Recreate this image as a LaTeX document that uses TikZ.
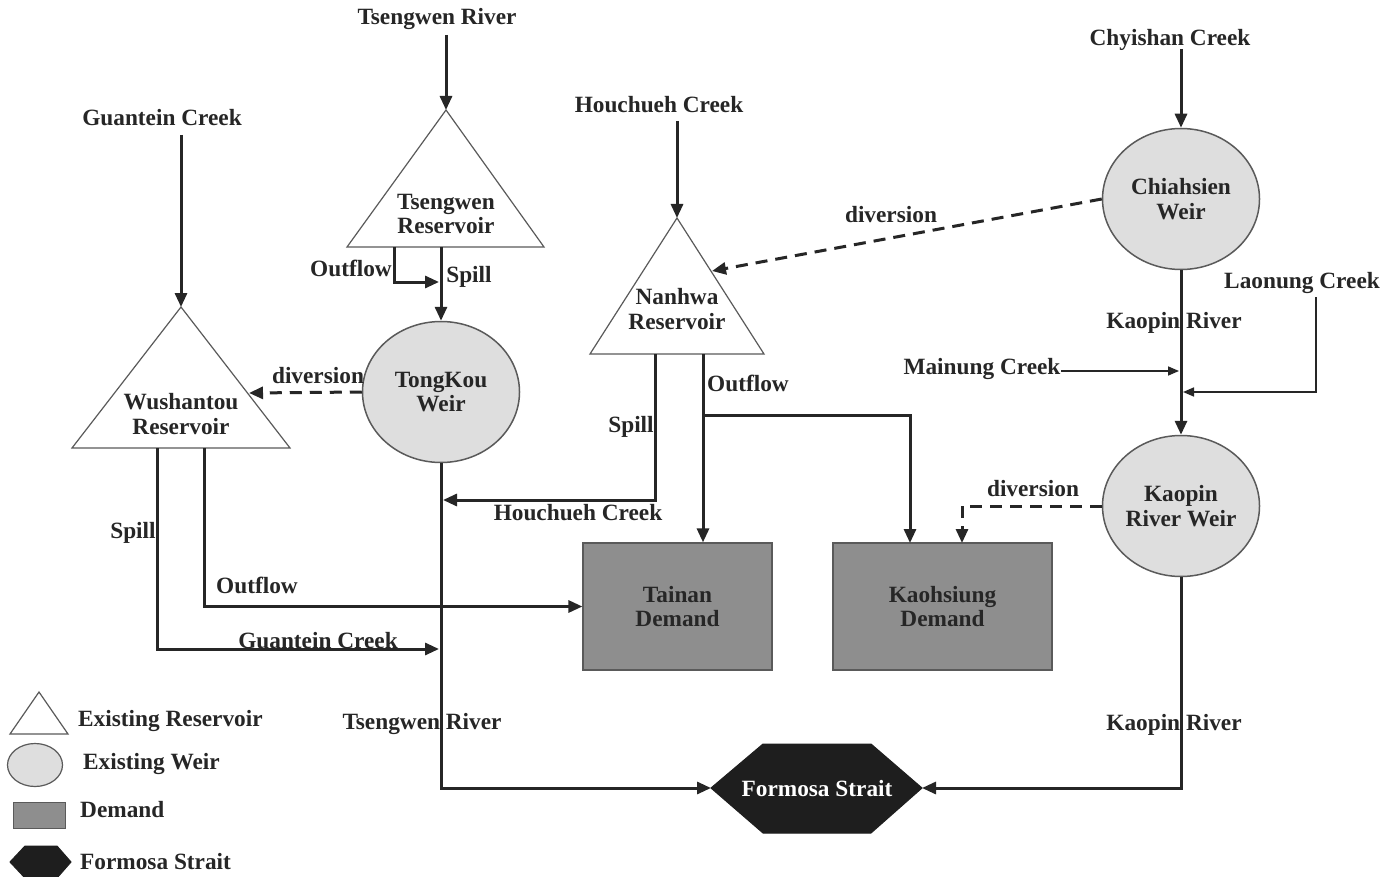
\documentclass[tikz,border=0pt]{standalone}
\usepackage{fontspec}
\setmainfont{Liberation Serif}
\usetikzlibrary{arrows.meta,shapes.geometric}
\definecolor{ink}{HTML}{262626}
\definecolor{weirfill}{HTML}{DEDEDE}
\definecolor{demfill}{HTML}{8E8E8E}
\definecolor{outl}{HTML}{5A5A5A}
\definecolor{seafill}{HTML}{1E1E1E}
\begin{document}
\begin{tikzpicture}[x=1pt,y=-1pt,
  lbl/.style={font=\fontsize{23.3}{24.5}\selectfont\bfseries, inner sep=0pt, text=ink},
  flow/.style={line width=3pt, draw=ink, -{Triangle[length=14pt,width=12pt]}},
  thinflow/.style={line width=1.6pt, draw=ink, -{Triangle[length=11pt,width=9pt]}},
  divline/.style={line width=3pt, draw=ink, dash pattern=on 12pt off 8pt, -{Triangle[length=14pt,width=12pt]}},
  resv/.style={draw=outl, line width=1.2pt, fill=white},
  weir/.style={ellipse, draw=outl, line width=1.5pt, fill=weirfill, inner sep=0pt,
    minimum width=157pt, minimum height=141pt, align=center,
    font=\fontsize{23.3}{24.5}\selectfont\bfseries, text=ink},
  demand/.style={rectangle, draw=outl, line width=1.2pt, fill=demfill, inner sep=0pt,
    minimum width=189pt, minimum height=127pt, align=center,
    font=\fontsize{23.3}{24.5}\selectfont\bfseries, text=black!85},
  sea/.style={fill=seafill, draw=seafill, line width=1pt}
]
\useasboundingbox (0,0) rectangle (1396,877);
\fill[white] (0,0) rectangle (1396,877);

% ---------- source labels ----------
\node[lbl] (twsrc) at (437,19) {Tsengwen River};
\node[lbl] (gcsrc) at (162,118) {Guantein Creek};
\node[lbl] (hcsrc) at (659,105) {Houchueh Creek};
\node[lbl] (cssrc) at (1170,40) {Chyishan Creek};
\node[lbl] (lnsrc) at (1302,283) {Laonung Creek};
\node[lbl] (mnsrc) at (982,369) {Mainung Creek};

% ---------- reservoirs (triangles) ----------
\coordinate (tsA) at (446,110); \coordinate (tsL) at (347,247); \coordinate (tsR) at (544,247);
\draw[resv] (tsA) -- (tsL) -- (tsR) -- cycle;
\node[lbl, align=center] (ts) at (446,214) {Tsengwen\\Reservoir};

\coordinate (wsA) at (181,307); \coordinate (wsL) at (72,448); \coordinate (wsR) at (290,448);
\draw[resv] (wsA) -- (wsL) -- (wsR) -- cycle;
\node[lbl, align=center] (ws) at (181,414) {Wushantou\\Reservoir};

\coordinate (nhA) at (677,218); \coordinate (nhL) at (590,354); \coordinate (nhR) at (764,354);
\draw[resv] (nhA) -- (nhL) -- (nhR) -- cycle;
\node[lbl, align=center] (nh) at (677,309) {Nanhwa\\Reservoir};

% ---------- weirs ----------
\node[weir] (tk) at (441,392) {TongKou\\Weir};
\node[weir] (cs) at (1181,199) {Chiahsien\\Weir};
\node[weir] (kp) at (1181,506) {Kaopin\\River Weir};

% ---------- demands ----------
\node[demand] (tn) at (677.5,606.5) {Tainan\\Demand};
\node[demand, minimum width=219pt] (kh) at (942.5,606.5) {Kaohsiung\\Demand};

% ---------- Formosa Strait ----------
\coordinate (fsL) at (711,788); \coordinate (fsTL) at (763,744); \coordinate (fsTR) at (871,744);
\coordinate (fsR) at (922,788); \coordinate (fsBR) at (871,833); \coordinate (fsBL) at (763,833);
\draw[sea] (fsL) -- (fsTL) -- (fsTR) -- (fsR) -- (fsBR) -- (fsBL) -- cycle;
\node[lbl, text=white] (fs) at (817,789) {Formosa Strait};

% ---------- connection points ----------
\coordinate (twtop) at (446,35);
\coordinate (gctop) at (181,135);
\coordinate (hctop) at (677,121);
\coordinate (cstop) at (1181,49);
\coordinate (tsO) at (394,247);
\coordinate (tsS) at (441,247);
\coordinate (tsJ) at (439,282);
\coordinate (wsD) at (249,393);
\coordinate (wsS) at (157,448);
\coordinate (wsO) at (204,448);
\coordinate (gcJ) at (439,649);
\coordinate (nhS) at (655,354);
\coordinate (nhO) at (703,354);
\coordinate (nhB) at (703,415);
\coordinate (hcJ) at (443,500);
\coordinate (khIn) at (910,543);
\coordinate (nhD) at (712,271);
\coordinate (mnS) at (1061,371);
\coordinate (mnJ) at (1179,371);
\coordinate (lnS) at (1316,297);
\coordinate (lnJ) at (1183,392);
\coordinate (khD) at (962,543);

% ---------- connectors ----------
\draw[flow] (twtop) -- (tsA);
\draw[flow] (gctop) -- (wsA);
\draw[flow] (hctop) -- (nhA);
\draw[flow] (cstop) -- (cs.north);

\draw[flow] (tsO) |- (tsJ);
\draw[flow] (tsS) -- (tk.north);
\draw[divline] (tk.west) -- (wsD);
\draw[flow] (tk.south) |- (fsL);

\draw[flow] (wsS) |- (gcJ);
\draw[flow] (wsO) |- (tn.west);

\draw[flow] (nhS) |- (hcJ);
\draw[flow] (nhO) -- (nhO |- tn.north);
\draw[flow] (nhB) -| (khIn);

\draw[divline] (cs.west) -- (nhD);
\draw[flow] (cs.south) -- (kp.north);
\draw[thinflow] (mnS) -- (mnJ);
\draw[thinflow] (lnS) |- (lnJ);
\draw[divline] (kp.west) -| (khD);
\draw[flow] (kp.south) |- (fsR);

% ---------- connector labels ----------
\node[lbl] (l1) at (351,268) {Outflow};
\node[lbl] (l2) at (469,277) {Spill};
\node[lbl] (l3) at (318,376) {diversion};
\node[lbl] (l4) at (133,533) {Spill};
\node[lbl] (l5) at (257,585) {Outflow};
\node[lbl] (l6) at (318,641) {Guantein Creek};
\node[lbl] (l7) at (422,724) {Tsengwen River};
\node[lbl] (l8) at (631,427) {Spill};
\node[lbl] (l9) at (748,383) {Outflow};
\node[lbl] (l10) at (578,513) {Houchueh Creek};
\node[lbl] (l11) at (891,215) {diversion};
\node[lbl] (l12) at (1174,323) {Kaopin River};
\node[lbl] (l13) at (1033,489) {diversion};
\node[lbl] (l14) at (1174,725) {Kaopin River};

% ---------- legend ----------
\coordinate (lgA) at (39,692); \coordinate (lgL) at (10,734); \coordinate (lgR) at (68,734);
\draw[resv] (lgA) -- (lgL) -- (lgR) -- cycle;
\node[lbl, anchor=west] (lg1) at (78,721) {Existing Reservoir};
\node[ellipse, draw=outl, line width=1.2pt, fill=weirfill, minimum width=55pt, minimum height=43pt, inner sep=0pt] (lgW) at (35,765) {};
\node[lbl, anchor=west] (lg2) at (83,764) {Existing Weir};
\node[rectangle, draw=outl, line width=1pt, fill=demfill, minimum width=52pt, minimum height=26pt, inner sep=0pt] (lgD) at (39,815) {};
\node[lbl, anchor=west] (lg3) at (80,810) {Demand};
\coordinate (lhL) at (10,862); \coordinate (lhTL) at (25,846); \coordinate (lhTR) at (57,846);
\coordinate (lhR) at (71,862); \coordinate (lhBR) at (57,878); \coordinate (lhBL) at (25,878);
\draw[sea] (lhL) -- (lhTL) -- (lhTR) -- (lhR) -- (lhBR) -- (lhBL) -- cycle;
\node[lbl, anchor=west] (lg4) at (80,862) {Formosa Strait};
\end{tikzpicture}
\end{document}
